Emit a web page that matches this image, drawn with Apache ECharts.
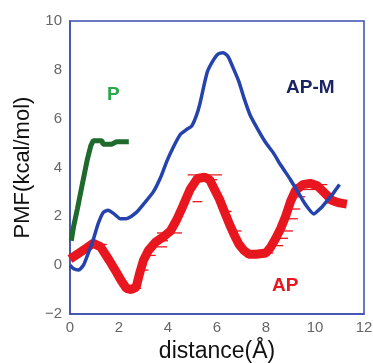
<!DOCTYPE html>
<html>
<head>
<meta charset="utf-8">
<script src="https://cdn.jsdelivr.net/npm/echarts@6/dist/echarts.min.js"></script>
<style>html,body{margin:0;padding:0;background:#fff}#c{width:373px;height:363px}</style>
</head>
<body>
<div id="c"></div>
<script>
// AP-M (blue) PMF curve: [distance, PMF]
var apmData = [[0,0.0],[0.15,-0.15],[0.35,-0.2],[0.55,0.0],[0.75,0.5],[0.95,1.05],[1.15,1.7],[1.35,2.15],[1.55,2.25],[1.8,2.1],[2.05,1.9],[2.35,1.92],[2.7,2.15],[3.0,2.5],[3.4,3.0],[3.7,3.6],[3.95,4.25],[4.2,4.8],[4.5,5.35],[4.75,5.55],[4.97,5.7],[5.15,6.1],[5.3,6.6],[5.6,7.9],[5.85,8.4],[6.05,8.65],[6.25,8.7],[6.45,8.55],[6.65,8.1],[6.9,7.5],[7.1,6.85],[7.35,6.15],[7.7,5.5],[8.0,5.0],[8.3,4.6],[8.6,4.1],[9.0,3.5],[9.3,3.0],[9.6,2.5],[9.95,2.1],[10.25,2.35],[10.5,2.65],[10.75,2.95],[11.0,3.3]];
// AP (red) PMF curve
var apData = [[0,0.25],[0.3,0.45],[0.6,0.65],[0.95,0.9],[1.25,0.75],[1.6,0.2],[1.9,-0.3],[2.1,-0.65],[2.3,-0.95],[2.5,-1.0],[2.7,-0.9],[2.85,-0.3],[3.0,0.2],[3.2,0.6],[3.5,0.95],[3.8,1.15],[4.1,1.4],[4.35,1.85],[4.6,2.4],[4.9,3.1],[5.2,3.55],[5.5,3.6],[5.7,3.5],[5.9,3.1],[6.1,2.7],[6.3,2.2],[6.5,1.7],[6.7,1.25],[6.9,0.85],[7.1,0.6],[7.3,0.45],[7.6,0.45],[8.0,0.5],[8.2,0.75],[8.4,1.1],[8.6,1.5],[8.8,2.0],[9.0,2.6],[9.2,3.05],[9.5,3.3],[9.8,3.35],[10.1,3.25],[10.4,2.95],[10.7,2.65],[11.0,2.55],[11.3,2.5]];
// AP noise whiskers: [y, xStart, xEnd]
var apWhiskers = [[1.32,3.55,4.57],[0.75,3.55,3.96],[1.0,3.5,4.0],[0.4,3.1,3.5],[-0.2,2.85,3.2],[3.7,4.8,6.2],[3.5,5.6,6.0],[2.6,5.0,5.4],[2.2,6.2,6.6],[1.4,6.6,7.0],[3.3,9.2,10.5],[3.1,9.3,10.3],[2.55,10.4,11.3],[1.9,8.7,9.3],[1.4,8.5,9.1],[1.1,8.3,8.9],[2.8,9.0,9.6],[2.3,8.8,9.4],[0.5,7.2,8.3],[0.8,8.1,8.7],[0.85,0.6,1.5],[-0.95,2.2,2.9]];
// P (green) PMF curve
var pData = [[0.05,1.0],[0.15,1.6],[0.3,2.3],[0.5,3.3],[0.7,4.3],[0.85,4.9],[0.95,5.1],[1.3,5.1],[1.35,4.95],[1.7,4.95],[1.9,5.05],[2.4,5.05]];
var xTicks = [0,2,4,6,8,10,12];
var yTicks = [-2,0,2,4,6,8,10];

var chart = echarts.init(document.getElementById('c'));
function whiskerItem(params, api){
  var p1 = api.coord([api.value(1), api.value(0)]);
  var p2 = api.coord([api.value(2), api.value(0)]);
  return {type:'line', shape:{x1:p1[0],y1:p1[1],x2:p2[0],y2:p2[1]}, style:{stroke:'#e8161e', lineWidth:1.3}};
}
chart.setOption({
  animation:false,
  backgroundColor:'#fff',
  grid:{left:70,right:9,top:21,bottom:49,containLabel:false,outerBoundsMode:'none',show:true,borderColor:'#3b4cb0',borderWidth:1.5,backgroundColor:'transparent'},
  xAxis:{type:'value',min:xTicks[0],max:xTicks[xTicks.length-1],interval:2,
    name:'distance(Å)',nameLocation:'middle',nameGap:26,
    nameTextStyle:{fontFamily:'Liberation Sans',fontSize:23,color:'#111'},
    axisLine:{onZero:false,lineStyle:{color:'#3b4cb0',width:1.5}},axisTick:{show:false},splitLine:{show:false},
    axisLabel:{fontFamily:'Liberation Sans',fontSize:15,color:'#666',margin:6}},
  yAxis:{type:'value',min:yTicks[0],max:yTicks[yTicks.length-1],interval:2,
    name:'PMF(kcal/mol)',nameLocation:'middle',nameGap:33,
    nameTextStyle:{fontFamily:'Liberation Sans',fontSize:22,color:'#111'},
    axisLine:{onZero:false,lineStyle:{color:'#3b4cb0',width:1.5}},axisTick:{show:false},splitLine:{show:false},
    axisLabel:{fontFamily:'Liberation Sans',fontSize:15,color:'#666',margin:8,
      formatter:function(v){return String(v).replace('-','\u2212');}}},
  series:[
    {type:'custom',renderItem:whiskerItem,data:apWhiskers,z:2,silent:true},
    {type:'line',data:apData,showSymbol:false,lineStyle:{color:'#e8161e',width:9},z:3},
    {type:'line',data:pData,showSymbol:false,lineStyle:{color:'#1e6a2c',width:5},z:3},
    {type:'line',data:apmData,showSymbol:false,smooth:0.2,lineStyle:{color:'#2443ad',width:3.5},z:4}
  ],
  graphic:[
    {type:'text',left:107,top:85,style:{text:'P',font:'bold 19px "Liberation Sans"',fill:'#2aa84a'}},
    {type:'text',left:286,top:78,style:{text:'AP-M',font:'bold 19px "Liberation Sans"',fill:'#1b2463'}},
    {type:'text',left:272,top:276,style:{text:'AP',font:'bold 19px "Liberation Sans"',fill:'#e8161e'}}
  ]
});
</script>
</body>
</html>
